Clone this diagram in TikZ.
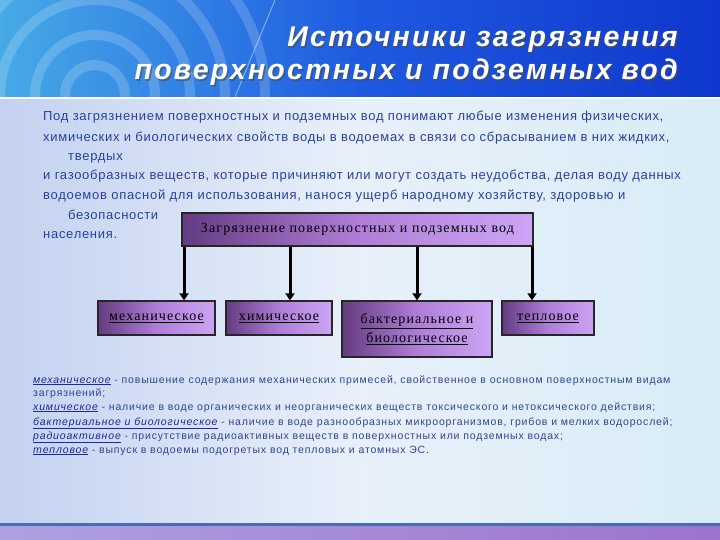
\documentclass[tikz,border=0pt]{standalone}
\usepackage{fontspec}
\setmainfont{Liberation Sans}
\newfontfamily\titlef[LetterSpace=8]{Liberation Sans}
\newfontfamily\paraf[LetterSpace=5.5]{Liberation Sans}
\newfontfamily\boxf[LetterSpace=8]{Liberation Serif}
\newfontfamily\notef[LetterSpace=8]{Liberation Sans}
\usetikzlibrary{arrows.meta}
\definecolor{hdrA}{RGB}{70,170,230}
\definecolor{hdrB}{RGB}{30,90,225}
\definecolor{hdrC}{RGB}{15,55,205}
\definecolor{bodyL}{RGB}{196,210,240}
\definecolor{bodyM}{RGB}{232,240,250}
\definecolor{bodyR}{RGB}{216,236,246}
\definecolor{txtblue}{RGB}{40,65,160}
\definecolor{notetxt}{RGB}{45,70,150}
\definecolor{termblue}{RGB}{30,40,160}
\definecolor{boxdark}{RGB}{100,60,130}
\definecolor{boxmid}{RGB}{175,125,215}
\definecolor{boxlight}{RGB}{205,165,245}
\definecolor{footA}{RGB}{175,160,225}
\definecolor{footB}{RGB}{155,115,205}
\definecolor{footline}{RGB}{70,110,180}
\tikzset{
  cbox/.style={draw=black!85, line width=1.2pt, left color=boxdark, right color=boxlight, middle color=boxmid, inner sep=0pt, font=\boxf\fontsize{14}{19}\selectfont, text=black, align=center},
  arr/.style={draw=black, line width=3pt, -{Triangle[length=7pt,width=9pt]}},
  para/.style={anchor=base west, inner sep=0pt, text=txtblue, font=\paraf\fontsize{13}{15}\selectfont},
  note/.style={anchor=base west, inner sep=0pt, text=notetxt, font=\notef\fontsize{10.5}{12}\selectfont},
  ttl/.style={anchor=base east, inner sep=0pt, font=\titlef\bfseries\itshape\fontsize{28.5}{32}\selectfont}
}
\newcommand{\term}[1]{{\color{termblue}\itshape\underline{#1}}}
\begin{document}
\begin{tikzpicture}[x=1pt,y=-1pt]
\useasboundingbox (0,0) rectangle (720,540);
% header
\fill[left color=hdrA, right color=hdrC, middle color=hdrB] (0,0) rectangle (720,97);
\begin{scope}
\clip (0,0) rectangle (720,97);
\foreach \r in {30,60,95,130,170} \draw[white, opacity=0.18, line width=10pt] (95,95) circle (\r);
\draw[white, opacity=0.5, line width=0.8pt] (275,0) -- (235,97);
\end{scope}
\fill[white, opacity=0.75] (0,97) rectangle (720,100);
% body
\shade[left color=bodyL, right color=bodyR, middle color=bodyM] (0,100) rectangle (720,524);
% footer
\fill[footline] (0,523) rectangle (720,526);
\shade[left color=footA, right color=footB] (0,526) rectangle (720,540);
% title
\foreach \t/\y in {{Источники загрязнения}/47, {поверхностных и подземных вод}/80}{
  \node[ttl, text=black!70, opacity=0.6] at (679.5,\y+1.5) {\t};
  \node[ttl, text=white] at (678,\y) {\t};
}
% paragraph
\node[para] (p1) at (43,121) {Под загрязнением поверхностных и подземных вод понимают любые изменения физических,};
\node[para] (p2) at (43,142) {химических и биологических свойств воды в водоемах в связи со сбрасыванием в них жидких,};
\node[para] (p3) at (68,161) {твердых};
\node[para] (p4) at (43,180) {и газообразных веществ, которые причиняют или могут создать неудобства, делая воду данных};
\node[para] (p5) at (43,200) {водоемов опасной для использования, нанося ущерб народному хозяйству, здоровью и};
\node[para] (p6) at (68,219) {безопасности};
\node[para] (p7) at (43,238) {населения.};
% diagram
\node[cbox, minimum width=351pt, minimum height=33pt] (top) at (357.5,229.5) {Загрязнение поверхностных и подземных вод};
\node[cbox, minimum width=117pt, minimum height=34pt] (mech) at (156.5,318) {\underline{механическое}};
\node[cbox, minimum width=106pt, minimum height=34pt] (chem) at (279,318) {\underline{химическое}};
\node[cbox, minimum width=150pt, minimum height=56pt] (bact) at (417,329) {\underline{бактериальное и}\\\underline{биологическое}};
\node[cbox, minimum width=92pt, minimum height=34pt] (tep) at (548,318) {\underline{тепловое}};
\coordinate (x1) at (184,0);
\coordinate (x2) at (290,0);
\coordinate (x3) at (417,0);
\coordinate (x4) at (532,0);
\draw[arr] (x1 |- top.south) -- (x1 |- mech.north);
\draw[arr] (x2 |- top.south) -- (x2 |- chem.north);
\draw[arr] (x3 |- top.south) -- (x3 |- bact.north);
\draw[arr] (x4 |- top.south) -- (x4 |- tep.north);
% notes
\node[note] (n1) at (33,383) {\term{механическое} - повышение содержания механических примесей, свойственное в основном поверхностным видам};
\node[note] (n2) at (33,396) {загрязнений;};
\node[note] (n3) at (33,410) {\term{химическое} - наличие в воде органических и неорганических веществ токсического и нетоксического действия;};
\node[note] (n4) at (33,425) {\term{бактериальное и биологическое} - наличие в воде разнообразных микроорганизмов, грибов и мелких водорослей;};
\node[note] (n5) at (33,439) {\term{радиоактивное} - присутствие радиоактивных веществ в поверхностных или подземных водах;};
\node[note] (n6) at (33,453) {\term{тепловое} - выпуск в водоемы подогретых вод тепловых и атомных ЭС.};
\end{tikzpicture}
\end{document}
